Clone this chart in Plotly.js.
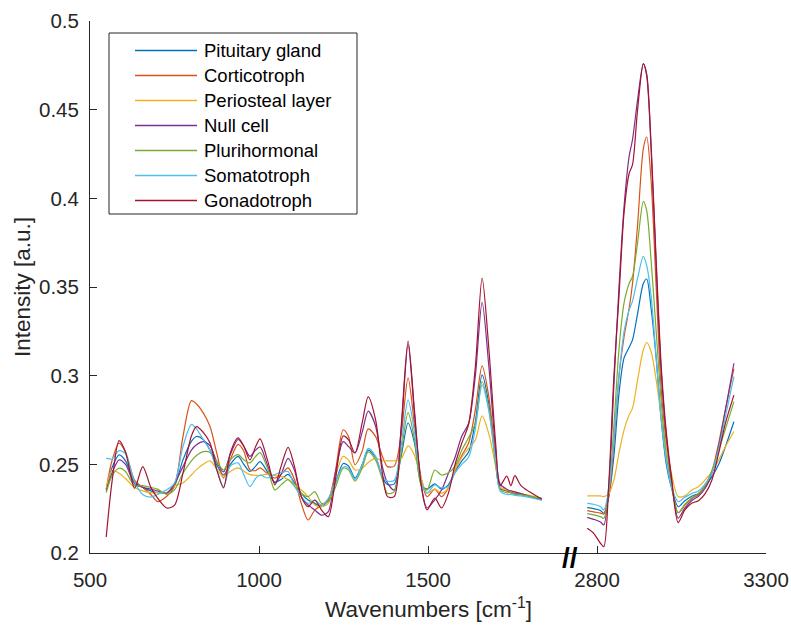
<!DOCTYPE html>
<html>
<head>
<meta charset="utf-8">
<script src="https://cdn.plot.ly/plotly-3.0.1.min.js"></script>
<style>html,body{margin:0;padding:0;background:#fff;}#chart{width:791px;height:627px;}</style>
</head>
<body>
<div id="chart"></div>
<script>
// ---------- DATA ----------
const seriesNames = ["Pituitary gland", "Corticotroph", "Periosteal layer", "Null cell", "Plurihormonal", "Somatotroph", "Gonadotroph"];
const seriesColors = ["#0072BD", "#D95319", "#EDB120", "#7E2F8E", "#77AC30", "#4DBEEE", "#A2142F"];

// fingerprint region wavenumbers (cm-1)
const wnLeft = [548, 565, 586, 605, 632, 656, 680, 700, 727, 750, 775, 800, 815, 835, 855, 875, 895, 915, 938, 955, 973, 990, 1003, 1025, 1047, 1065, 1086, 1105, 1125, 1145, 1165, 1185, 1205, 1225, 1249, 1265, 1284, 1305, 1323, 1345, 1365, 1380, 1400, 1420, 1441, 1460, 1480, 1497, 1520, 1540, 1560, 1580, 1600, 1620, 1640, 1660, 1680, 1700, 1713, 1733, 1745, 1757, 1775, 1836];
// high-wavenumber region (cm-1)
const wnRight = [2771, 2790, 2810, 2820, 2835, 2850, 2865, 2880, 2895, 2905, 2920, 2937, 2947, 2960, 2975, 2990, 3005, 3020, 3040, 3060, 3080, 3100, 3120, 3140, 3160, 3180, 3205];

const pituitaryLeft = [0.236, 0.248, 0.2553, 0.252, 0.240, 0.237, 0.235, 0.234, 0.234, 0.238, 0.2525, 0.263, 0.2657, 0.264, 0.258, 0.2497, 0.244, 0.250, 0.2545, 0.250, 0.246, 0.249, 0.2515, 0.2458, 0.240, 0.2414, 0.2443, 0.2395, 0.2336, 0.2299, 0.228, 0.2261, 0.2299, 0.239, 0.2505, 0.249, 0.2423, 0.2497, 0.258, 0.254, 0.243, 0.2386, 0.239, 0.254, 0.2733, 0.262, 0.239, 0.236, 0.239, 0.236, 0.2384, 0.246, 0.252, 0.257, 0.274, 0.3004, 0.284, 0.252, 0.2365, 0.235, 0.234, 0.2338, 0.2332, 0.230];
const corticoLeft = [0.236, 0.252, 0.262, 0.257, 0.241, 0.237, 0.233, 0.229, 0.232, 0.2375, 0.2656, 0.2859, 0.284, 0.279, 0.2713, 0.2564, 0.2423, 0.2526, 0.2612, 0.2574, 0.247, 0.2465, 0.248, 0.2447, 0.2423, 0.2443, 0.248, 0.2414, 0.228, 0.2186, 0.2242, 0.227, 0.2299, 0.245, 0.2695, 0.2656, 0.2497, 0.2573, 0.270, 0.2656, 0.2545, 0.2487, 0.249, 0.266, 0.2987, 0.272, 0.242, 0.2318, 0.236, 0.2318, 0.2367, 0.247, 0.255, 0.262, 0.2807, 0.3055, 0.288, 0.254, 0.237, 0.235, 0.234, 0.2335, 0.233, 0.2302];
const periostealLeft = [0.236, 0.2465, 0.245, 0.242, 0.237, 0.235, 0.234, 0.234, 0.234, 0.238, 0.2395, 0.244, 0.247, 0.250, 0.252, 0.2473, 0.243, 0.246, 0.248, 0.2461, 0.2442, 0.2438, 0.2437, 0.2445, 0.2437, 0.2432, 0.2414, 0.2385, 0.2355, 0.2318, 0.2271, 0.2261, 0.228, 0.2425, 0.2545, 0.2524, 0.2468, 0.2478, 0.251, 0.2535, 0.252, 0.252, 0.252, 0.253, 0.2604, 0.255, 0.242, 0.2338, 0.236, 0.2336, 0.2367, 0.247, 0.254, 0.259, 0.2637, 0.2773, 0.267, 0.249, 0.237, 0.2355, 0.235, 0.2345, 0.2335, 0.231];
const nullCellLeft = [0.235, 0.245, 0.2525, 0.250, 0.239, 0.237, 0.236, 0.235, 0.2337, 0.239, 0.2487, 0.258, 0.261, 0.2628, 0.2605, 0.2514, 0.2457, 0.2555, 0.264, 0.2602, 0.2545, 0.258, 0.2598, 0.2497, 0.2395, 0.2443, 0.2534, 0.2466, 0.2318, 0.2271, 0.2242, 0.2214, 0.2233, 0.2441, 0.2628, 0.260, 0.2564, 0.268, 0.280, 0.2715, 0.2487, 0.2395, 0.2355, 0.268, 0.3175, 0.278, 0.238, 0.2254, 0.230, 0.2355, 0.2448, 0.254, 0.266, 0.273, 0.300, 0.3413, 0.305, 0.258, 0.239, 0.236, 0.235, 0.2345, 0.2335, 0.230];
const plurihormonalLeft = [0.234, 0.2435, 0.2478, 0.246, 0.238, 0.238, 0.237, 0.236, 0.2331, 0.2356, 0.245, 0.252, 0.255, 0.2572, 0.2567, 0.2514, 0.2468, 0.2526, 0.2555, 0.2526, 0.2508, 0.2545, 0.2566, 0.2479, 0.2355, 0.2384, 0.2414, 0.2376, 0.2336, 0.2318, 0.2346, 0.228, 0.229, 0.2365, 0.2478, 0.2468, 0.2405, 0.2478, 0.257, 0.2524, 0.2414, 0.2336, 0.2346, 0.256, 0.2792, 0.264, 0.238, 0.2355, 0.2468, 0.244, 0.2452, 0.249, 0.258, 0.265, 0.273, 0.2967, 0.281, 0.250, 0.236, 0.234, 0.234, 0.233, 0.2328, 0.2308];
const somatoLeft = [0.2535, 0.253, 0.2577, 0.256, 0.240, 0.233, 0.2315, 0.233, 0.2356, 0.2395, 0.260, 0.2725, 0.270, 0.264, 0.258, 0.2469, 0.2374, 0.249, 0.2508, 0.2442, 0.2374, 0.242, 0.244, 0.2423, 0.2443, 0.2454, 0.2459, 0.2376, 0.2318, 0.228, 0.2299, 0.227, 0.2308, 0.2395, 0.2485, 0.2478, 0.2414, 0.2497, 0.259, 0.2545, 0.2433, 0.2405, 0.241, 0.260, 0.2863, 0.268, 0.240, 0.2338, 0.2384, 0.2367, 0.2375, 0.2452, 0.250, 0.254, 0.270, 0.2948, 0.280, 0.252, 0.235, 0.233, 0.233, 0.2325, 0.2322, 0.2298];
const gonadoLeft = [0.209, 0.240, 0.2634, 0.257, 0.2365, 0.2487, 0.237, 0.231, 0.2254, 0.227, 0.245, 0.266, 0.2713, 0.268, 0.262, 0.247, 0.2367, 0.2564, 0.2649, 0.2602, 0.2525, 0.260, 0.2643, 0.2525, 0.2384, 0.2487, 0.2596, 0.2487, 0.2318, 0.2261, 0.2299, 0.2242, 0.2205, 0.240, 0.266, 0.2638, 0.2564, 0.2732, 0.288, 0.275, 0.245, 0.2318, 0.2318, 0.270, 0.3195, 0.280, 0.238, 0.2243, 0.231, 0.2254, 0.2336, 0.250, 0.262, 0.2725, 0.305, 0.355, 0.315, 0.262, 0.238, 0.2434, 0.238, 0.2436, 0.238, 0.2305];

const pituitaryRight = [0.2256, 0.225, 0.224, 0.2224, 0.232, 0.255, 0.290, 0.310, 0.316, 0.3202, 0.335, 0.352, 0.3545, 0.338, 0.310, 0.275, 0.250, 0.237, 0.2261, 0.2295, 0.232, 0.2335, 0.2375, 0.243, 0.250, 0.260, 0.274];
const corticoRight = [0.2239, 0.2232, 0.2225, 0.222, 0.232, 0.262, 0.300, 0.322, 0.338, 0.352, 0.385, 0.428, 0.4346, 0.410, 0.350, 0.292, 0.262, 0.240, 0.2227, 0.227, 0.2305, 0.233, 0.238, 0.246, 0.262, 0.281, 0.304];
const periostealRight = [0.2322, 0.2322, 0.2322, 0.2318, 0.2335, 0.2412, 0.2564, 0.2694, 0.2779, 0.2817, 0.2976, 0.3146, 0.3187, 0.3136, 0.2976, 0.2769, 0.260, 0.245, 0.2318, 0.2322, 0.2355, 0.2374, 0.2412, 0.2459, 0.2525, 0.260, 0.2685];
const nullCellRight = [0.2201, 0.219, 0.2175, 0.2158, 0.238, 0.295, 0.350, 0.3954, 0.4237, 0.4331, 0.4556, 0.476, 0.469, 0.428, 0.362, 0.302, 0.266, 0.242, 0.2197, 0.2255, 0.2295, 0.232, 0.2365, 0.245, 0.260, 0.2807, 0.307];
const plurihormonalRight = [0.2222, 0.2215, 0.2205, 0.2196, 0.235, 0.272, 0.315, 0.341, 0.352, 0.3559, 0.375, 0.3983, 0.393, 0.365, 0.325, 0.285, 0.255, 0.238, 0.2227, 0.2275, 0.231, 0.2335, 0.238, 0.2465, 0.258, 0.270, 0.2854];
const somatoRight = [0.228, 0.2275, 0.2262, 0.2243, 0.236, 0.265, 0.300, 0.325, 0.337, 0.342, 0.355, 0.3673, 0.362, 0.345, 0.310, 0.275, 0.252, 0.238, 0.229, 0.2315, 0.2335, 0.235, 0.239, 0.245, 0.259, 0.277, 0.2995];
const gonadoRight = [0.2139, 0.2111, 0.2055, 0.2036, 0.240, 0.300, 0.345, 0.392, 0.414, 0.419, 0.450, 0.4758, 0.470, 0.430, 0.365, 0.305, 0.268, 0.243, 0.2171, 0.2243, 0.228, 0.2295, 0.2335, 0.2412, 0.2564, 0.2732, 0.289];

const leftSeries = [pituitaryLeft, corticoLeft, periostealLeft, nullCellLeft, plurihormonalLeft, somatoLeft, gonadoLeft];
const rightSeries = [pituitaryRight, corticoRight, periostealRight, nullCellRight, plurihormonalRight, somatoRight, gonadoRight];

const xTicksLeft = [500, 1000, 1500];
const xTicksRight = [2800, 3300];
const yTicks = [0.2, 0.25, 0.3, 0.35, 0.4, 0.45, 0.5];
const yTickText = ["0.2", "0.25", "0.3", "0.35", "0.4", "0.45", "0.5"];

// ---------- CHART ----------
const FONT = "'Liberation Sans', Arial, Helvetica, sans-serif";
const INK = "#262626";
const W = 791, H = 627;
const M = {l: 90, r: 25, t: 21, b: 74};
const PW = W - M.l - M.r, PH = H - M.t - M.b;
const px2x = p => (p - M.l) / PW;          // page px -> paper x
const py2y = p => (H - M.b - p) / PH;      // page px -> paper y

const traces = [];
seriesNames.forEach((name, i) => {
  traces.push({
    type: "scatter", mode: "lines", name: name,
    x: wnLeft, y: leftSeries[i], xaxis: "x", yaxis: "y",
    line: {color: seriesColors[i], width: 1.2, shape: "spline", smoothing: 0.8},
    showlegend: false, hoverinfo: "skip"
  });
  traces.push({
    type: "scatter", mode: "lines", name: name,
    x: wnRight, y: rightSeries[i], xaxis: "x2", yaxis: "y",
    line: {color: seriesColors[i], width: 1.2, shape: "spline", smoothing: 0.8},
    showlegend: false, hoverinfo: "skip"
  });
});

// legend drawn as box + line samples + text labels
const legendBox = {x0: 109, x1: 357, y0: 33, y1: 214};
const legendRow0 = 50.5, legendRowStep = 25;
const shapes = [{
  type: "rect", xref: "paper", yref: "paper", layer: "above",
  x0: px2x(legendBox.x0), x1: px2x(legendBox.x1), y0: py2y(legendBox.y1), y1: py2y(legendBox.y0),
  line: {color: INK, width: 1}, fillcolor: "#ffffff"
}];
const annotations = [];
seriesNames.forEach((name, i) => {
  const py = legendRow0 + i * legendRowStep;
  shapes.push({
    type: "line", xref: "paper", yref: "paper", layer: "above",
    x0: px2x(135), x1: px2x(197), y0: py2y(py), y1: py2y(py),
    line: {color: seriesColors[i], width: 1.6}
  });
  annotations.push({
    xref: "paper", yref: "paper", x: px2x(202), y: py2y(py), xanchor: "left", yanchor: "middle",
    text: name, showarrow: false, font: {family: FONT, size: 18.5, color: "#000000"}
  });
});
annotations.push(
  {xref: "paper", yref: "paper", x: 0.5, y: py2y(608), xanchor: "center", yanchor: "middle",
   text: "Wavenumbers [cm<sup>-1</sup>]", showarrow: false,
   font: {family: FONT, size: 22.5, color: INK}},
  {xref: "paper", yref: "paper", x: px2x(570), y: py2y(557), xanchor: "center", yanchor: "middle",
   text: "<b>//</b>", showarrow: false,
   font: {family: FONT, size: 28, color: "#000000"}}
);

const axisCommon = {
  ticks: "inside", ticklen: 7, tickwidth: 1, tickcolor: INK,
  showline: true, linecolor: INK, linewidth: 1,
  showgrid: false, zeroline: false, fixedrange: true,
  tickfont: {family: FONT, size: 20.5, color: INK}
};
const split = px2x(570);
const layout = {
  width: W, height: H,
  margin: M,
  paper_bgcolor: "#ffffff", plot_bgcolor: "#ffffff",
  font: {family: FONT, color: INK, size: 20.5},
  showlegend: false,
  xaxis: Object.assign({}, axisCommon, {
    domain: [0, split], range: [500, 1920], anchor: "y",
    tickvals: xTicksLeft, ticktext: xTicksLeft.map(String), ticklabelstandoff: 8
  }),
  xaxis2: Object.assign({}, axisCommon, {
    domain: [split, 1], range: [2720, 3300], anchor: "y",
    tickvals: xTicksRight, ticktext: xTicksRight.map(String), ticklabelstandoff: 8
  }),
  yaxis: Object.assign({}, axisCommon, {
    range: [0.2, 0.5], tickvals: yTicks, ticktext: yTickText, ticklabelstandoff: 6,
    title: {text: "Intensity [a.u.]", font: {family: FONT, size: 22.5, color: INK}, standoff: 2}
  }),
  shapes: shapes,
  annotations: annotations
};

Plotly.newPlot("chart", traces, layout, {staticPlot: true, displayModeBar: false});
</script>
</body>
</html>
